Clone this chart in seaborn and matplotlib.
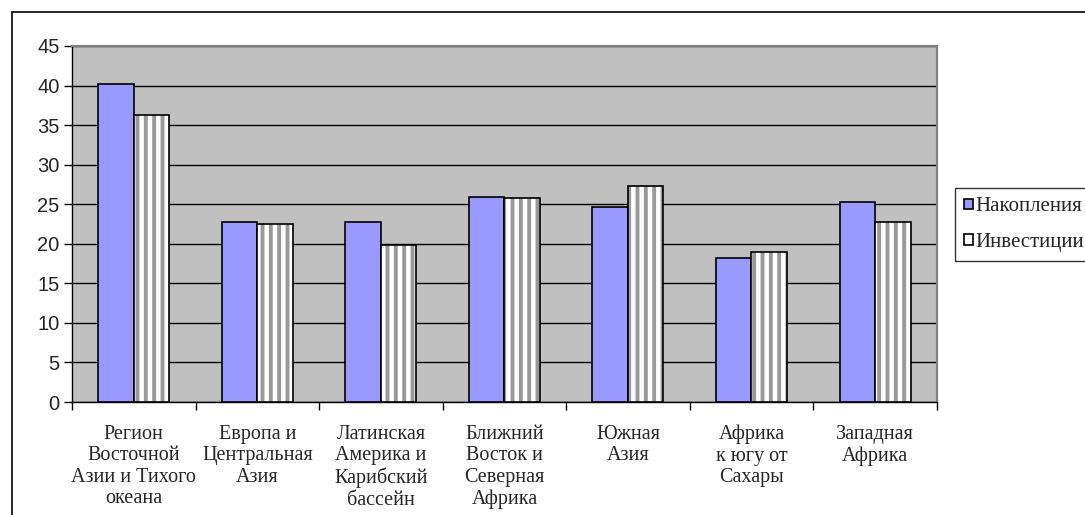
import numpy as np
import pandas as pd
import matplotlib
matplotlib.use('Agg')
import matplotlib.pyplot as plt
import matplotlib.colors as mcolors
from matplotlib.patches import Rectangle
import seaborn as sns

# regions and values
regions = ['Регион\nВосточной\nАзии и Тихого\nокеана',
           'Европа и\nЦентральная\nАзия',
           'Латинская\nАмерика и\nКарибский\nбассейн',
           'Ближний\nВосток и\nСеверная\nАфрика',
           'Южная\nАзия',
           'Африка\nк югу от\nСахары',
           'Западная\nАфрика']
savings = [40.2, 22.7, 22.7, 25.9, 24.7, 18.2, 25.3]
investment = [36.3, 22.5, 19.9, 25.8, 27.3, 19.0, 22.7]
series = ['Накопления', 'Инвестиции']

df = pd.DataFrame({'region': regions * 2,
                   'value': savings + investment,
                   'series': [series[0]] * 7 + [series[1]] * 7})

sns.set_style('white')
plt.rcParams['hatch.linewidth'] = 2.8
plt.rcParams['font.family'] = ['Liberation Serif', 'DejaVu Serif']

fig = plt.figure(figsize=(10.85, 5.15), dpi=100)
ax = fig.add_axes([0.0664, 0.2194, 0.797, 0.6913])
ax.set_facecolor('#c0c0c0')

sns.barplot(data=df, x='region', y='value', hue='series', ax=ax,
            palette=['#9999ff', '#ffffff'], width=0.575, saturation=1,
            edgecolor='black', linewidth=1.2, zorder=3)

# hatch the second series with gray vertical stripes
n = len(regions)
for i, p in enumerate(ax.patches):
    if i >= n and i < 2 * n:
        p.set_hatch('||')
        p.set_edgecolor('black')
        p._hatch_color = mcolors.to_rgba('#999999')
        p.stale = True

ax.set_ylim(0, 45)
ax.set_xlim(-0.5, n - 0.5)
ax.set_yticks(np.arange(0, 46, 5))
ax.yaxis.grid(True, color='black', linewidth=1, zorder=1)
ax.set_axisbelow(True)
ax.set_xlabel('')
ax.set_ylabel('')

for lab in ax.get_yticklabels():
    lab.set_family(['Liberation Sans', 'DejaVu Sans'])
    lab.set_fontsize(14.5)
ax.tick_params(axis='y', left=True, length=6, width=1, color='black', pad=3)
ax.tick_params(axis='x', bottom=False, labelsize=14.5, pad=13)
for lab in ax.get_xticklabels():
    lab.set_linespacing(1.17)
ax.set_xticks(np.arange(-0.5, n, 1), minor=True)
ax.tick_params(axis='x', which='minor', bottom=True, length=6, width=1, color='black')

for s in ['left', 'bottom']:
    ax.spines[s].set_color('black')
    ax.spines[s].set_linewidth(1)
for s in ['top', 'right']:
    ax.spines[s].set_color('#808080')
    ax.spines[s].set_linewidth(1.5)

leg = ax.legend(loc='upper left', bbox_to_anchor=(955 / 1085, 1 - 188 / 515),
                bbox_transform=fig.transFigure, frameon=True, fancybox=False,
                edgecolor='black', fontsize=15, handlelength=0.4,
                handleheight=0.4, handletextpad=0.12, labelspacing=0.8,
                borderpad=0.45, borderaxespad=0)
leg.get_frame().set_linewidth(1)
for h in leg.legend_handles:
    h.set_edgecolor('black')
leg.legend_handles[1].set_hatch('|')
leg.legend_handles[1]._hatch_color = mcolors.to_rgba('#999999')

# outer chart frame
fig.add_artist(Rectangle((12 / 1085, -0.1), 1.2, 1 - 12 / 515 + 0.1,
                         transform=fig.transFigure, fill=False,
                         edgecolor='black', linewidth=1.2))

plt.savefig('out.png', dpi=100)
